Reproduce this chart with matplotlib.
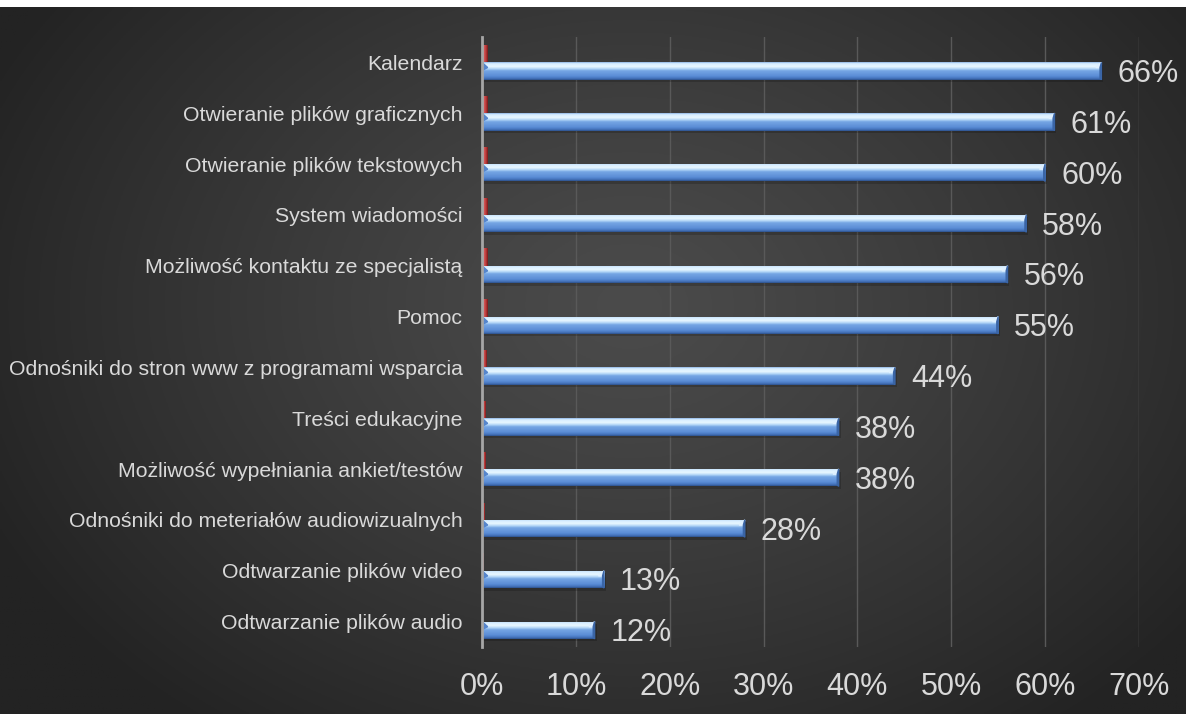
import numpy as np
import matplotlib
matplotlib.use("Agg")
import matplotlib.pyplot as plt
from matplotlib.colors import LinearSegmentedColormap
from matplotlib.ticker import PercentFormatter

plt.rcParams["font.family"] = ["Liberation Sans", "DejaVu Sans"]

# =========================
# Dane
# =========================
kategorie = [
    "Kalendarz",
    "Otwieranie plików graficznych",
    "Otwieranie plików tekstowych",
    "System wiadomości",
    "Możliwość kontaktu ze specjalistą",
    "Pomoc",
    "Odnośniki do stron www z programami wsparcia",
    "Treści edukacyjne",
    "Możliwość wypełniania ankiet/testów",
    "Odnośniki do meteriałów audiowizualnych",
    "Odtwarzanie plików video",
    "Odtwarzanie plików audio",
]
wartosci = [0.66, 0.61, 0.60, 0.58, 0.56, 0.55, 0.44, 0.38, 0.38, 0.28, 0.13, 0.12]
etykiety = ["66%", "61%", "60%", "58%", "56%", "55%", "44%", "38%", "38%", "28%", "13%", "12%"]
wartosci_2 = [0.006, 0.0055, 0.0055, 0.0055, 0.0055, 0.0055, 0.0045, 0.0035, 0.0035, 0.0025, 0.0012, 0.001]

kolor_tekstu = "#d9d9d9"

fig = plt.figure(figsize=(11.86, 7.14), dpi=100)
fig.patch.set_facecolor("white")

# =========================
# Tło - gradient radialny
# =========================
bg = fig.add_axes([0, 0, 1, 1 - 7 / 714])
h, w = 300, 500
yy, xx = np.mgrid[0:h, 0:w]
r = np.sqrt(((xx / w - 0.53) / 0.6) ** 2 + ((yy / h - 0.42) / 0.75) ** 2)
r = np.clip(r, 0, 1)
szary = (0x4b - (0x4b - 0x23) * r ** 1.2) / 255.0
bg.imshow(np.dstack([szary, szary, szary]), aspect="auto", extent=[0, 1, 0, 1])
bg.set_axis_off()
bg.set_zorder(-1)

# =========================
# Wykres
# =========================
ax = fig.add_axes([482 / 1186, 1 - 647 / 714, (1139 - 482) / 1186, (647 - 37) / 714])
ax.set_facecolor("none")

y = np.arange(len(kategorie))
hbar = 0.34

niebieski = LinearSegmentedColormap.from_list("nieb", [
    (0.0, "#88b0e2"), (0.07, "#d4ecff"), (0.25, "#e8f7ff"), (0.38, "#b0d4f6"),
    (0.48, "#76a6e4"), (0.78, "#5b8dd6"), (0.92, "#4473bb"), (1.0, "#2c508a"),
])
czerwony = LinearSegmentedColormap.from_list("czer", [
    (0.0, "#f4a0a0"), (0.35, "#d65858"), (0.75, "#b03434"), (1.0, "#701818"),
])

bars_b = ax.barh(y + hbar / 2, wartosci, height=hbar, color="none", zorder=3)
bars_r = ax.barh(y - hbar / 2, wartosci_2, height=hbar, color="none", zorder=3)

grad_v = np.linspace(0, 1, 100).reshape(-1, 1)
grad_h = np.linspace(0, 1, 100).reshape(1, -1)

for b in bars_b:
    x0, y0 = b.get_x(), b.get_y()
    x1, y1 = x0 + b.get_width(), y0 + b.get_height()
    # cien pod paskiem
    ax.barh(y0 + b.get_height() / 2 + 0.05, b.get_width() + 0.002, height=hbar,
            color="black", alpha=0.18, zorder=2)
    im = ax.imshow(grad_v, cmap=niebieski, aspect="auto", extent=[x0, x1, y1, y0],
                   zorder=3, interpolation="bilinear")
    im.set_clip_path(b)
    # skos na koncu paska
    d = 0.006
    ax.fill([x1 - d, x1, x1 - 0.0015], [y0 + 0.1, y0, y0 + 0.1], color="#dff0ff", zorder=4)
    ax.fill([x1 - 0.0015, x1, x1, x1 - 0.0015], [y0 + 0.1, y0, y1, y1 - 0.03],
            color="#3a65a6", zorder=4)
    ax.fill([x0, x0 + d, x0], [y0, y0 + 0.1, y0 + 0.16], color="#5585cc", zorder=4)

for b in bars_r:
    x0, y0 = b.get_x(), b.get_y()
    x1, y1 = x0 + b.get_width(), y0 + b.get_height()
    im = ax.imshow(grad_h, cmap=czerwony, aspect="auto", extent=[x0, x1, y1, y0],
                   zorder=3, interpolation="bilinear")
    im.set_clip_path(b)

for yi, v, t in zip(y, wartosci, etykiety):
    ax.text(v + 0.017, yi + hbar / 2 + 0.06, t, color=kolor_tekstu, fontsize=22,
            va="center", ha="left", zorder=5)

ax.set_xlim(0, 0.7)
ax.set_ylim(len(kategorie) - 0.5, -0.5)
ax.xaxis.set_major_formatter(PercentFormatter(1.0, decimals=0))
ax.set_xticks(np.arange(0, 0.71, 0.1))
ax.set_yticks(y)
ax.set_yticklabels(kategorie)

ax.grid(axis="x", color="#595959", linewidth=1, zorder=0)
ax.set_axisbelow(True)
for s in ["top", "right", "bottom"]:
    ax.spines[s].set_visible(False)
ax.spines["left"].set_color("#a6a6a6")
ax.spines["left"].set_linewidth(2)
ax.spines["left"].set_zorder(6)

ax.tick_params(axis="x", length=0, labelsize=22, colors=kolor_tekstu, pad=18)
ax.tick_params(axis="y", length=0, labelsize=15.3, colors=kolor_tekstu, pad=14)

fig.savefig("out.png", dpi=100, facecolor=fig.get_facecolor())
